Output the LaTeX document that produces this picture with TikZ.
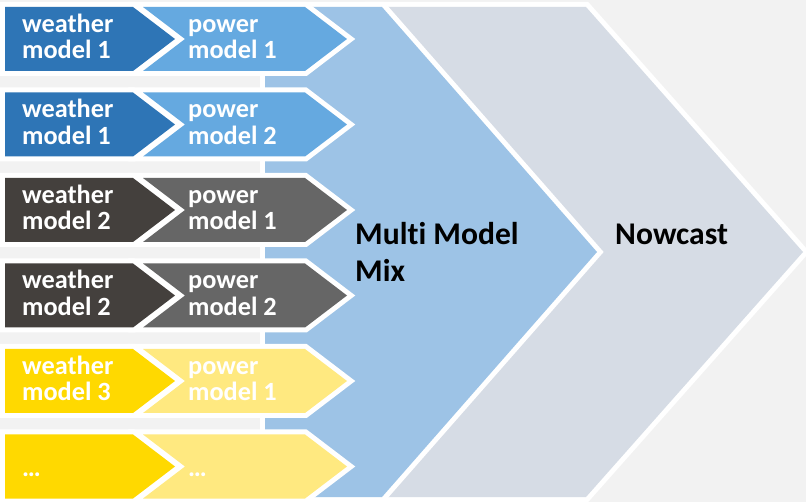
\documentclass[tikz,border=0pt]{standalone}
\usepackage{fontspec}
\setmainfont{Carlito}[Ligatures=NoCommon]
\definecolor{bg}{RGB}{242,242,242}
\definecolor{wblue}{RGB}{46,117,182}
\definecolor{pblue}{RGB}{101,169,224}
\definecolor{mmmblue}{RGB}{157,195,230}
\definecolor{nowgray}{RGB}{214,220,229}
\definecolor{wgray}{RGB}{68,64,61}
\definecolor{pgray}{RGB}{102,102,102}
\definecolor{wyel}{RGB}{255,217,0}
\definecolor{pyel}{RGB}{255,233,128}
\newcommand{\mytwo}[2]{\begin{tabular}[t]{@{}l@{}}#1\\#2\end{tabular}}
\begin{document}
\begin{tikzpicture}[x=1pt,y=-1pt,
  shp/.style={fill=#1, preaction={draw=white, line width=10pt, line join=miter}},
  rowtxt/.style={text=white, font=\fontsize{26.3}{25.5}\selectfont\bfseries, anchor=base west, inner sep=0pt},
  bigtxt/.style={text=black, font=\fontsize{31.6}{37}\selectfont\bfseries, anchor=base west, inner sep=0pt}]
\useasboundingbox[fill=bg] (0,0) rectangle (806,502);
% Nowcast chevron
\path[shp=nowgray] (370,7) -- (586,7) -- (803,252) -- (586,497) -- (370,497) -- cycle;
% Multi Model Mix chevron
\path[shp=mmmblue] (265,7) -- (382,7) -- (597,252) -- (382,497) -- (265,497) -- cycle;
% rows
\foreach \c/\cw/\cp in {39/wblue/pblue, 124.5/wblue/pblue, 210/wgray/pgray, 295.5/wgray/pgray, 381/wyel/pyel, 466.5/wyel/pyel}{
  \path[shp=\cw] (5,{\c-32}) -- (133,{\c-32}) -- (175,\c) -- (133,{\c+32}) -- (5,{\c+32}) -- cycle;
  \path[shp=\cp] (143,{\c-32}) -- (305,{\c-32}) -- (347,\c) -- (305,{\c+32}) -- (143,{\c+32}) -- (185,\c) -- cycle;
}
\node[rowtxt] (w1) at (22,32.5) {\mytwo{weather}{model 1}};
\node[rowtxt] (p1) at (188,32.5) {\mytwo{power}{model 1}};
\node[rowtxt] (w2) at (22,118) {\mytwo{weather}{model 1}};
\node[rowtxt] (p2) at (188,118) {\mytwo{power}{model 2}};
\node[rowtxt] (w3) at (22,203.5) {\mytwo{weather}{model 2}};
\node[rowtxt] (p3) at (188,203.5) {\mytwo{power}{model 1}};
\node[rowtxt] (w4) at (22,289) {\mytwo{weather}{model 2}};
\node[rowtxt] (p4) at (188,289) {\mytwo{power}{model 2}};
\node[rowtxt] (w5) at (22,374.5) {\mytwo{weather}{model 3}};
\node[rowtxt] (p5) at (188,374.5) {\mytwo{power}{model 1}};
\node[rowtxt] (w6) at (22,476) {…};
\node[rowtxt] (p6) at (188,476) {…};
\node[bigtxt] (mmm) at (355,245) {\mytwo{Multi Model}{Mix}};
\node[bigtxt] (now) at (615,245) {Nowcast};
\end{tikzpicture}
\end{document}
